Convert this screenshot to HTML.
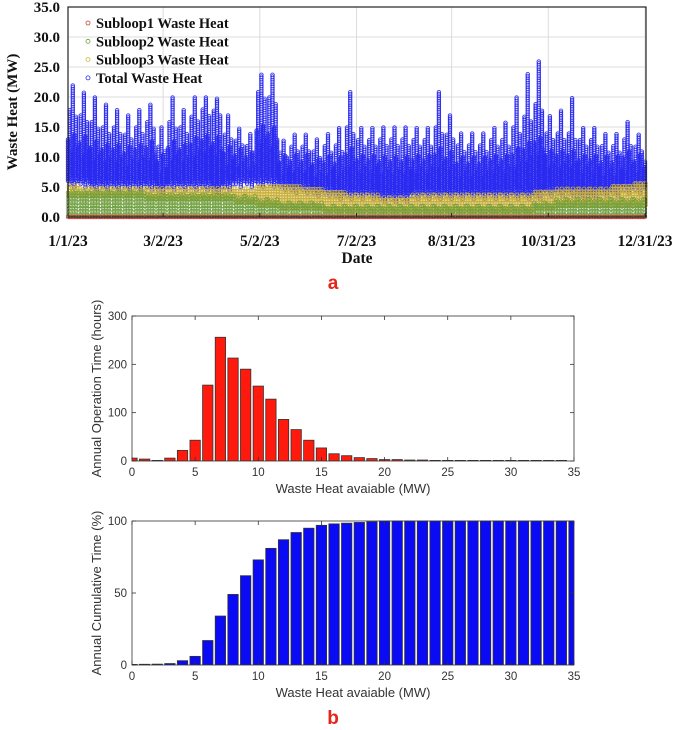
<!DOCTYPE html>
<html><head><meta charset="utf-8">
<style>
body{margin:0;background:#fff;width:675px;height:730px;overflow:hidden}
svg{display:block}
</style></head>
<body>
<svg id="fig" width="675" height="730" xmlns="http://www.w3.org/2000/svg">
  <g id="top"></g>
  <g id="hist"></g>
  <g id="cum"></g>
  <text x="333" y="289" font-family="Liberation Sans, sans-serif" font-weight="bold" font-size="19" fill="#e8231a" text-anchor="middle">a</text>
  <text x="333" y="724" font-family="Liberation Sans, sans-serif" font-weight="bold" font-size="19" fill="#e8231a" text-anchor="middle">b</text>
</svg>
<script>
// ---- Top chart data (weekly readings, MW) ----
const weekMax = [22,21,20,19,18,17,18,19,15,20,18,20,20,20,17,15,14,24,24,13,14,14,13,14,15,21,15,15,15,15,15,15,15,21,17,14,14,14,15,16,20,24,26,17,18,20,15,15,14,14,16,14,13];
const weekTop = [18,17,16,15,15,14,15,16,12,16,15,17,18,18,14,13,12,21,20,11,12,12,11,12,12,15,13,13,13,13,13,13,13,15,14,12,12,12,13,13,15,17,19,14,14,14,13,13,12,12,13,12,12];
const weekMin = [6,6,5.5,5.5,5.5,5.5,5.5,5.5,5,5.5,5.5,5.5,5.5,5,5.5,6,6,6,6,5.5,5,5,4.5,4.5,4,4,4,4,3.5,3.5,3.5,4,4,4,4,4,4,4,4,4,4,4,4,4.5,4.5,4.5,4,4,4.5,4.5,5,5,5];
const sub3Top = [5.5,5,5,5,5,5,5,5,5,5,5,5,5,5,5,5,5,5.5,5.5,5.5,5.5,5,5,4.5,4.5,4,4,4,3.5,3.5,3.5,4,4,4,4,4,4,4,4,4,4,4,4.5,4.5,5,5,5,5,5,5.5,5.5,6,6];
const sub2Top = [4.5,4.5,4.5,4.5,4.5,4.5,4.5,4,4,4,4,4,4,4,4,3.5,3.5,3,3,2.5,2.5,2.5,2.5,2,2,2,2,2,2,2,2,2,2,2,2,2,2,2,2,2,2,2,2.5,2.5,3,3,3,3,3,3,3,3,3];
const dateTicks = ["1/1/23","3/2/23","5/2/23","7/2/23","8/31/23","10/31/23","12/31/23"];
const dateTickDays = [0,60,121,182,242,303,364];
const wYTicks = [0,5,10,15,20,25,30,35];
const legendLabels = ["Subloop1 Waste Heat","Subloop2 Waste Heat","Subloop3 Waste Heat","Total Waste Heat"];
const legendColors = ["#c0403a","#6e9e3e","#c9b03a","#2a2af0"];

// ---- Histogram data ----
const histBins = [0,1,2,3,4,5,6,7,8,9,10,11,12,13,14,15,16,17,18,19,20,21,22,23,24,25,26,27,28,29,30,31,32,33,34];
const histHours = [6,4,1,6,22,43,157,256,213,190,155,128,86,65,43,27,15,11,7,5,3,3,2,2,1,0,0,0,0,0,0,0,0,0,0];
const histYTicks = [0,100,200,300];
const cumBins = [0,1,2,3,4,5,6,7,8,9,10,11,12,13,14,15,16,17,18,19,20,21,22,23,24,25,26,27,28,29,30,31,32,33,34,35];
const cumPct = [0.3,0.5,0.6,1,3,6,17,34,49,62,73,81,87,92,95,97,98,98.5,99,99.5,100,100,100,100,100,100,100,100,100,100,100,100,100,100,100,100];
const cumYTicks = [0,50,100];
const xTicks = [0,5,10,15,20,25,30,35];

const NS="http://www.w3.org/2000/svg";
function mk(parent,tag,attrs,text){const e=document.createElementNS(NS,tag);for(const k in attrs)e.setAttribute(k,attrs[k]);if(text!==undefined)e.textContent=text;parent.appendChild(e);return e;}

// ===== Top chart =====
(function(){
  const g=document.getElementById('top');
  const L=68,R=646,T=7,B=217;
  const xd=d=>L+d*(645-L)/364;
  const yv=v=>B-v*(B-T)/35;
  const serif="Liberation Serif, serif";
  wYTicks.forEach(v=>{const l=mk(g,'line',{x1:L,x2:R,y1:yv(v),y2:yv(v),stroke:'#dcdcdc','stroke-width':1});
    
    });
  dateTickDays.forEach(d=>{const l=mk(g,'line',{x1:xd(d),x2:xd(d),y1:T,y2:B,stroke:'#dcdcdc','stroke-width':1});
    
    });
  const sTotal=mk(g,'g',{fill:'none',stroke:legendColors[3],'stroke-width':0.8});
  
  
  const s3=mk(g,'g',{fill:'none',stroke:legendColors[2],'stroke-width':0.7});
  
  
  const s2=mk(g,'g',{fill:'none',stroke:legendColors[1],'stroke-width':0.7});
  
  
  const s1=mk(g,'g',{fill:'none',stroke:legendColors[0],'stroke-width':0.7});
  
  
  function col(x,lo,hi,step){let d='';for(let v=lo;v<=hi;v+=step){const y=yv(v);d+=`M${(x+1.8).toFixed(1)},${y.toFixed(1)}a1.8,1.8 0 1,0 -3.6,0a1.8,1.8 0 1,0 3.6,0`;}return d;}
  let dT='',d3='',d2='',d1='';
  for(let day=0;day<=364;day+=1){
    const w=Math.min(Math.floor(day/7),weekMax.length-1);
    const dw=day%7;
    const mid=(weekTop[w]+weekMin[w])/2;
    const tops=[mid+1,weekTop[w],mid-1,weekMax[w],mid+2,weekTop[w]-1,mid];
    const lows=[weekMin[w],weekMin[w]-0.5,weekMin[w]+1,weekMin[w],weekMin[w]-1,weekMin[w]+0.5,weekMin[w]];
    const x=xd(day);
    dT+=col(x,lows[dw],tops[dw],0.3);
    d3+=col(x+0.8,sub2Top[w]-1,sub3Top[w]-(dw%3)*0.3,0.45);
    d2+=col(x,0.2+(dw%2)*0.2,sub2Top[w]-(dw%3)*0.3,0.55);
    d1+=col(x,0,0.15,0.5);
  }
  mk(sTotal,'path',{d:dT});mk(s3,'path',{d:d3});mk(s2,'path',{d:d2});mk(s1,'path',{d:d1});
  const fr=mk(g,'rect',{x:L,y:T,width:R-L,height:B-T,fill:'none',stroke:'#222','stroke-width':1.2});
  
  
  wYTicks.forEach(v=>{const t=mk(g,'text',{x:L-8,y:yv(v)+5,'text-anchor':'end','font-family':serif,'font-weight':'bold','font-size':15,fill:'#111'},v.toFixed(1));
    
    });
  dateTicks.forEach((s,i)=>{const x=xd(dateTickDays[i]);
    mk(g,'line',{x1:x,x2:x,y1:B,y2:B-4,stroke:'#222'});
    const t=mk(g,'text',{x:x,y:246,'text-anchor':'middle','font-family':serif,'font-weight':'bold','font-size':15.5,fill:'#111'},s);
    
    });
  const xt=mk(g,'text',{x:357,y:263,'text-anchor':'middle','font-family':serif,'font-weight':'bold','font-size':15.5,fill:'#111'},'Date');
  
  
  const yt=mk(g,'text',{x:0,y:0,transform:'translate(17,112) rotate(-90)','text-anchor':'middle','font-family':serif,'font-weight':'bold','font-size':15,fill:'#111'},'Waste Heat (MW)');
  
  
  legendLabels.forEach((s,i)=>{const y=23+i*18.3;
    const le=mk(g,'g',{});
    
    
    mk(le,'circle',{cx:88,cy:y,r:2,fill:'none',stroke:legendColors[i],'stroke-width':0.8});
    mk(le,'text',{x:96,y:y+5,'font-family':serif,'font-weight':'bold','font-size':14.5,fill:'#111'},s);});
})();

// ===== Bar charts =====
function barChart(gid,bins,vals,yTicks,yMax,T,B,color,ytitle,barName){
  const g=document.getElementById(gid);
  const L=132,R=574;
  const xs=v=>L+v*(R-L)/35;
  const ys=v=>B-v*(B-T)/yMax;
  const sans="Liberation Sans, sans-serif";
  const cp='clip-'+gid;
  const defs=mk(g,'defs',{});const c=mk(defs,'clipPath',{id:cp});mk(c,'rect',{x:L,y:T-2,width:R-L,height:B-T+2});
  const bg=mk(g,'g',{'clip-path':`url(#${cp})`});
  bins.forEach((b,i)=>{const w=(R-L)/35*0.82;
    const h=Math.max(0.6,B-ys(vals[i]));
    const r=mk(bg,'rect',{x:xs(b)-w/2,y:B-h,width:w,height:h,fill:color,stroke:'#333','stroke-width':0.8});
    
    });
  const fr=mk(g,'rect',{x:L,y:T,width:R-L,height:B-T,fill:'none',stroke:'#333','stroke-width':0.8});
  
  
  yTicks.forEach(v=>{const y=ys(v);
    mk(g,'line',{x1:L,x2:L+4,y1:y,y2:y,stroke:'#333','stroke-width':0.8});
    mk(g,'line',{x1:R,x2:R-4,y1:y,y2:y,stroke:'#333','stroke-width':0.8});
    const t=mk(g,'text',{x:L-5,y:y+4,'text-anchor':'end','font-family':sans,'font-size':11.5,fill:'#333'},v);
    
    });
  xTicks.forEach(v=>{const x=xs(v);
    mk(g,'line',{x1:x,x2:x,y1:B,y2:B-4,stroke:'#333','stroke-width':0.8});
    mk(g,'line',{x1:x,x2:x,y1:T,y2:T+4,stroke:'#333','stroke-width':0.8});
    const t=mk(g,'text',{x:x,y:B+15,'text-anchor':'middle','font-family':sans,'font-size':11.5,fill:'#333'},v);
    
    });
  const xt=mk(g,'text',{x:(L+R)/2,y:B+32,'text-anchor':'middle','font-family':sans,'font-size':13,fill:'#333'},'Waste Heat avaiable (MW)');
  
  
  const yt=mk(g,'text',{x:0,y:0,transform:`translate(101,${(T+B)/2}) rotate(-90)`,'text-anchor':'middle','font-family':sans,'font-size':13,fill:'#333'},ytitle);
  
  
}
barChart('hist',histBins,histHours,histYTicks,300,316,461,'#ff1a0d','Annual Operation Time (hours)','histogram-bar');
barChart('cum',cumBins,cumPct,cumYTicks,100,521,665,'#0a0af5','Annual Cumulative Time (%)','cumulative-bar');
</script>
</body></html>
